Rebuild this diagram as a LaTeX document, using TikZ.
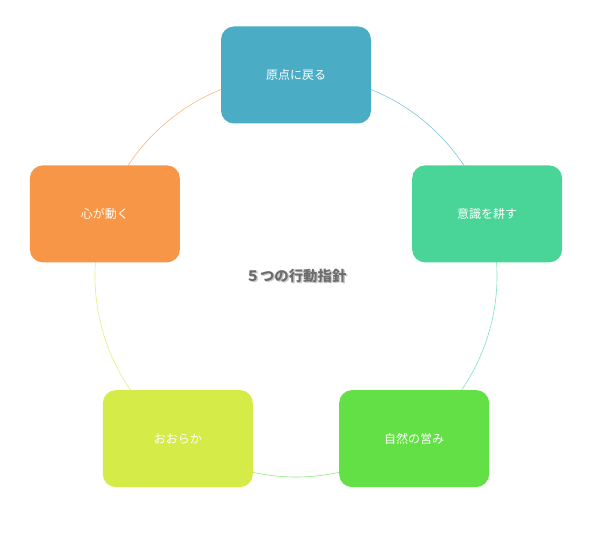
\documentclass[tikz,border=0pt]{standalone}
\usepackage{fontspec}
\newfontfamily\jpfont{Noto Sans CJK JP}
\usetikzlibrary{positioning}
\definecolor{cTop}{HTML}{4BACC6}
\definecolor{cRight}{HTML}{48D597}
\definecolor{cBotR}{HTML}{62E046}
\definecolor{cBotL}{HTML}{D5EB47}
\definecolor{cLeft}{HTML}{F79646}
\tikzset{
    %Define standard arrow tip
    >=stealth,
}
\begin{document}
\begin{tikzpicture}[x=1pt,y=1pt,font=\jpfont]
	\tikzset{
	  wn/.style={draw=none, text=white, font=\jpfont\large,
	             minimum width=150pt, minimum height=97pt,
	             shape=rectangle, rounded corners=13pt},
	  ring/.style={line width=0.6pt}
	},
	\useasboundingbox (0,0) rectangle (601,541);
	\coordinate (c) at (296,265);

	% ring segments, coloured after the node they leave
	\draw[ring, cTop!70]   ([shift={(90:201)}]c)  arc (90:18:201);
	\draw[ring, cRight!70] ([shift={(18:201)}]c)  arc (18:-54:201);
	\draw[ring, cBotR!70]  ([shift={(-54:201)}]c) arc (-54:-126:201);
	\draw[ring, cBotL!70]  ([shift={(-126:201)}]c) arc (-126:-198:201);
	\draw[ring, cLeft!70]  ([shift={(162:201)}]c) arc (162:90:201);

	\node[wn, fill=cTop]   (origin)  at ([shift={(90:201)}]c)  {原点に戻る};
	\node[wn, fill=cRight] (mind)    at ([shift={(18:201)}]c)  {意識を耕す};
	\node[wn, fill=cBotR]  (nature)  at ([shift={(-54:201)}]c) {自然の営み};
	\node[wn, fill=cBotL]  (easy)    at ([shift={(-126:201)}]c) {おおらか};
	\node[wn, fill=cLeft]  (heart)   at ([shift={(162:201)}]c) {心が動く};

	% centre title with soft shadow
	\node[text=gray!40, font=\jpfont\Large\bfseries] at ([shift={(1.5,-1.5)}]c) {５つの行動指針};
	\node[text=gray!85!black, font=\jpfont\Large\bfseries] (title) at (c) {５つの行動指針};
\end{tikzpicture}
\end{document}
